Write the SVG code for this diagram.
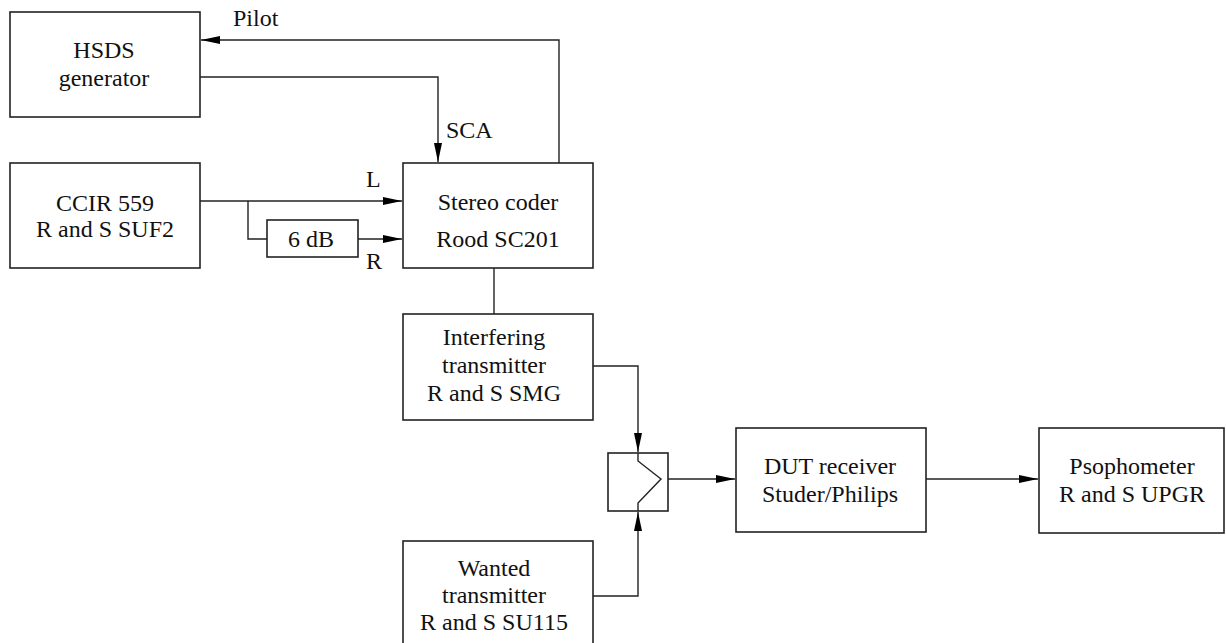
<svg xmlns="http://www.w3.org/2000/svg" width="1226" height="643" viewBox="0 0 1226 643">
<style>
.box{fill:#fff;stroke:#222;stroke-width:1.6}
.ln{fill:none;stroke:#222;stroke-width:1.4}
.t{font-family:"Liberation Serif","Times New Roman",serif;font-size:24px;fill:#111;text-anchor:middle}
.l{font-family:"Liberation Serif","Times New Roman",serif;font-size:24px;fill:#111}
</style>
<defs>
<marker id="ah" markerUnits="userSpaceOnUse" markerWidth="20" markerHeight="10" refX="19" refY="4" orient="auto">
<path d="M0,0 L19,4 L0,8 Z" fill="#000"/>
</marker>
</defs>
<rect width="1226" height="643" fill="#fff"/>
<g id="connectors">
<path class="ln" d="M559,163 V40 H201" marker-end="url(#ah)"/>
<path class="ln" d="M200,77 H438 V162" marker-end="url(#ah)"/>
<path class="ln" d="M200,201 H402" marker-end="url(#ah)"/>
<path class="ln" d="M248,201 V239 H267"/>
<path class="ln" d="M358,239 H402" marker-end="url(#ah)"/>
<path class="ln" d="M494,268 V314"/>
<path class="ln" d="M593,366 H638 V452" marker-end="url(#ah)"/>
<path class="ln" d="M593,596 H638 V512" marker-end="url(#ah)"/>
<path class="ln" d="M668,479 H735" marker-end="url(#ah)"/>
<path class="ln" d="M926,479 H1038" marker-end="url(#ah)"/>
<text class="l" x="233" y="26">Pilot</text>
<text class="l" x="446" y="138">SCA</text>
<text class="l" x="366" y="187">L</text>
<text class="l" x="366" y="269">R</text>
</g>
<g id="hsds">
<rect class="box" x="10" y="12" width="190" height="105"/>
<text class="t" x="104" y="58">HSDS</text>
<text class="t" x="104" y="86">generator</text>
</g>
<g id="ccir">
<rect class="box" x="10" y="163" width="190" height="105"/>
<text class="t" x="105" y="211">CCIR 559</text>
<text class="t" x="105" y="237">R and S SUF2</text>
</g>
<g id="att">
<rect class="box" x="267" y="220" width="91" height="37"/>
<text class="t" x="311" y="247">6 dB</text>
</g>
<g id="stereo">
<rect class="box" x="403" y="163" width="190" height="105"/>
<text class="t" x="498" y="210">Stereo coder</text>
<text class="t" x="498" y="247">Rood SC201</text>
</g>
<g id="interfering">
<rect class="box" x="403" y="314" width="190" height="106"/>
<text class="t" x="494" y="345">Interfering</text>
<text class="t" x="494" y="373">transmitter</text>
<text class="t" x="494" y="401">R and S SMG</text>
</g>
<g id="switch">
<rect class="box" x="608" y="453" width="60" height="58"/>
<path class="ln" d="M638,453 V461 L661,479 L638,503 V511"/>
</g>
<g id="wanted">
<rect class="box" x="403" y="541" width="190" height="120"/>
<text class="t" x="494" y="576">Wanted</text>
<text class="t" x="494" y="603">transmitter</text>
<text class="t" x="494" y="630">R and S SU115</text>
</g>
<g id="dut">
<rect class="box" x="736" y="428" width="190" height="104"/>
<text class="t" x="830" y="474">DUT receiver</text>
<text class="t" x="830" y="502">Studer/Philips</text>
</g>
<g id="psophometer">
<rect class="box" x="1039" y="428" width="185" height="105"/>
<text class="t" x="1132" y="474">Psophometer</text>
<text class="t" x="1132" y="502">R and S UPGR</text>
</g>
</svg>
